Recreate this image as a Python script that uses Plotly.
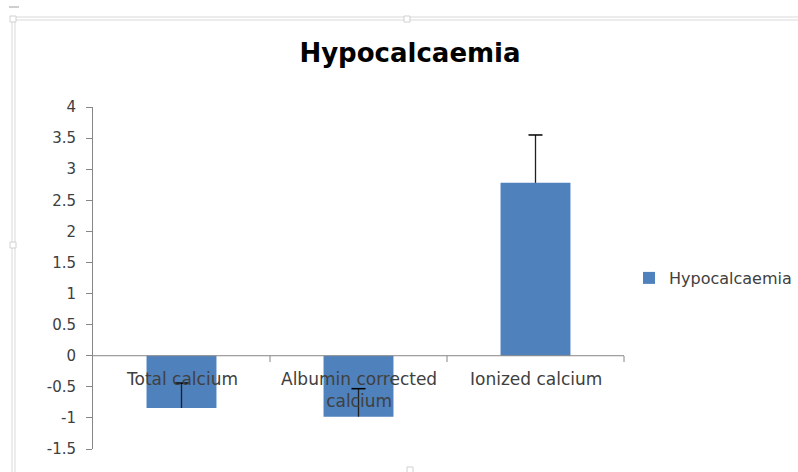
import plotly.graph_objects as go

categories = ["Total calcium", "Albumin corrected calcium", "Ionized calcium"]
tick_labels = ["Total calcium", "Albumin corrected<br>calcium", "Ionized calcium"]
values = [-0.84, -0.98, 2.78]
err_plus = [0.40, 0.45, 0.77]
series_name = "Hypocalcaemia"
y_ticks = [-1.5, -1, -0.5, 0, 0.5, 1, 1.5, 2, 2.5, 3, 3.5, 4]
y_tick_text = ["-1.5", "-1", "-0.5", "0", "0.5", "1", "1.5", "2", "2.5", "3", "3.5", "4"]

FONT = "DejaVu Sans"
TXT = "#404040"
W, H = 798, 472
L, R, T, B = 93, 174, 107, 23

fig = go.Figure()
fig.add_trace(go.Bar(
    x=categories, y=values, name=series_name,
    marker=dict(color="#4f81bd", line=dict(width=0)),
    showlegend=True,
))

# one-sided (plus) error bars: stem + top cap
ex, ey = [], []
for c, v, e in zip(categories, values, err_plus):
    ex += [c, c, None]
    ey += [v, v + e, None]
fig.add_trace(go.Scatter(x=ex, y=ey, mode="lines", line=dict(color="#202020", width=1.3),
                         showlegend=False, hoverinfo="skip"))
fig.add_trace(go.Scatter(x=categories, y=[v + e for v, e in zip(values, err_plus)],
                         mode="markers", marker=dict(symbol="line-ew", size=10,
                                                     line=dict(color="#000000", width=1.5)),
                         showlegend=False, hoverinfo="skip"))

# category labels positioned at the zero line
for c, t in zip(categories, tick_labels):
    fig.add_annotation(x=c, y=0, xref="x", yref="y", text=t, showarrow=False,
                       yanchor="top", yshift=-11, font=dict(family=FONT, size=17, color=TXT))

pw, ph = W - L - R, H - T - B
def px(x):
    return (x - L) / pw
def py(y):
    return (H - B - y) / ph

shapes = []
# zero line with downward ticks between categories
shapes.append(dict(type="line", xref="paper", yref="y", x0=0, x1=1, y0=0, y1=0,
                   line=dict(color="#868686", width=1)))
for i in range(1, 4):
    xx = i / 3
    shapes.append(dict(type="line", xref="paper", yref="paper", x0=xx, x1=xx,
                       y0=py(356), y1=py(362), line=dict(color="#868686", width=1)))
# frame decoration (light grey double lines)
for yy in (17, 20):
    shapes.append(dict(type="line", xref="paper", yref="paper", x0=px(12), x1=px(798),
                       y0=py(yy), y1=py(yy), line=dict(color="#d9d9d9", width=1)))
for xx in (12, 15):
    shapes.append(dict(type="line", xref="paper", yref="paper", x0=px(xx), x1=px(xx),
                       y0=py(20), y1=py(472), line=dict(color="#d9d9d9", width=1)))
for (cx, cy) in ((13, 19), (407, 19), (13, 245), (410, 470)):
    shapes.append(dict(type="rect", xref="paper", yref="paper", x0=px(cx - 3), x1=px(cx + 3),
                       y0=py(cy - 3), y1=py(cy + 3), line=dict(color="#d0d0d0", width=1),
                       fillcolor="white"))
shapes.append(dict(type="line", xref="paper", yref="paper", x0=px(9), x1=px(19),
                   y0=py(7), y1=py(7), line=dict(color="#a0a0a0", width=1)))

fig.update_layout(
    width=W, height=H,
    margin=dict(l=L, r=R, t=T, b=B, autoexpand=False),
    paper_bgcolor="white", plot_bgcolor="white",
    bargap=0.605,
    title=dict(text="<b>Hypocalcaemia</b>", x=410 / W, xanchor="center", xref="container",
               y=1 - 53 / H, yanchor="middle", yref="container",
               font=dict(family=FONT, size=26, color="#000000")),
    font=dict(family=FONT, size=15, color=TXT),
    xaxis=dict(showticklabels=False, showline=False, ticks="", showgrid=False, zeroline=False),
    yaxis=dict(range=[-1.5, 4], tickvals=y_ticks, ticktext=y_tick_text,
               showline=True, linecolor="#868686", linewidth=1, ticks="outside", ticklen=6,
               tickcolor="#868686", showgrid=False, zeroline=False, ticklabelstandoff=7,
               tickfont=dict(family=FONT, size=15, color=TXT)),
    legend=dict(x=px(629), y=py(278), xanchor="left", yanchor="middle",
                font=dict(family=FONT, size=16, color=TXT), itemwidth=30,
                bgcolor="rgba(0,0,0,0)"),
    shapes=shapes,
)

fig.write_html("out.html", config={"displayModeBar": False},
               post_script="document.body.style.margin='0px';")
